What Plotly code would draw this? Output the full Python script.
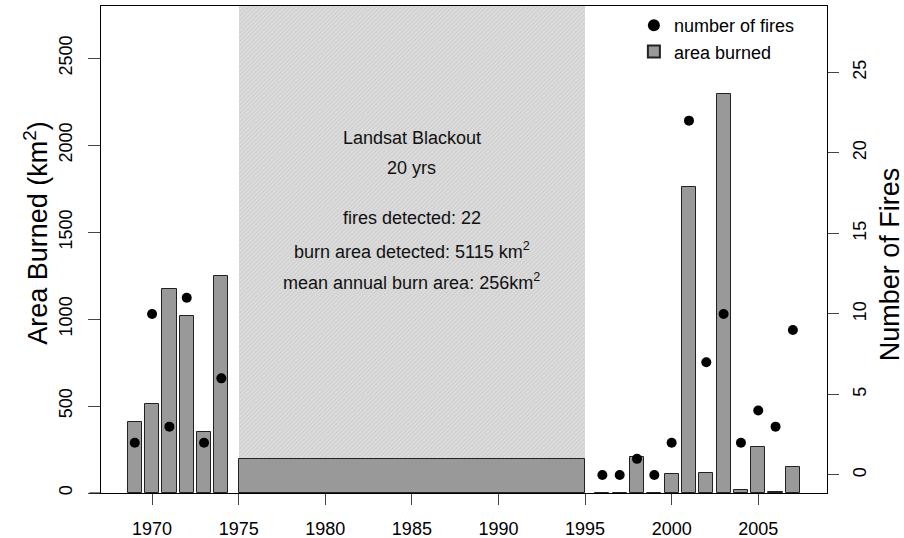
import plotly.graph_objects as go

# ---- data ----
years_pre = [1969, 1970, 1971, 1972, 1973, 1974]
area_pre = [410, 510, 1173, 1016, 353, 1246]
fires_pre = [2, 10, 3, 11, 2, 6]

years_post = [1996, 1997, 1998, 1999, 2000, 2001, 2002, 2003, 2004, 2005, 2006, 2007]
area_post = [0, 0, 209, 0, 107, 1761, 117, 2296, 20, 266, 8, 148]
fires_post = [0, 0, 1, 0, 2, 22, 7, 10, 2, 4, 3, 9]

blackout_start = 1975
blackout_end = 1995
blackout_bar = 195

x_ticks = [1970, 1975, 1980, 1985, 1990, 1995, 2000, 2005]
left_ticks = [0, 500, 1000, 1500, 2000, 2500]
right_ticks = [0, 5, 10, 15, 20, 25]

annot_lines = [
    ("Landsat Blackout", 2043),
    ("20 yrs", 1867),
    ("fires detected: 22", 1580),
    ("burn area detected: 5115 km<sup>2</sup>", 1397),
    ("mean annual burn area: 256km<sup>2</sup>", 1215),
]

FONT = "Liberation Sans, Arial, Helvetica, sans-serif"
Y_MAX = 2800

years = years_pre + years_post
area = area_pre + area_post
fires = fires_pre + fires_post
bl_mid = (blackout_start + blackout_end) / 2
bl_w = blackout_end - blackout_start

fig = go.Figure()

# fire counts (first for legend order)
fig.add_trace(go.Scatter(
    x=years, y=fires, yaxis="y2", mode="markers", name="number of fires",
    marker=dict(color="black", size=10, symbol="circle"),
))

# blackout background band (hatched)
fig.add_trace(go.Bar(
    x=[bl_mid], y=[Y_MAX], width=[bl_w], showlegend=False, hoverinfo="skip",
    marker=dict(color="#dcdcdc", line=dict(width=0),
                pattern=dict(shape="/", fgcolor="#bdbdbd", bgcolor="#dcdcdc", size=3, solidity=0.35)),
))

# area burned bars
fig.add_trace(go.Bar(
    x=years + [bl_mid], y=area + [blackout_bar],
    width=[0.82] * len(years) + [bl_w],
    name="area burned",
    marker=dict(color="#999999", line=dict(color="#222222", width=1)),
))

for txt, yv in annot_lines:
    fig.add_annotation(x=bl_mid, y=yv, xref="x", yref="y", text=txt, showarrow=False,
                       font=dict(size=18, color="#111111", family=FONT), xanchor="center", yanchor="middle")

# axis titles
fig.add_annotation(x=-0.089, y=0.535, xref="paper", yref="paper", text="Area Burned (km<sup>2</sup>)",
                   textangle=-90, showarrow=False, font=dict(size=27, color="black", family=FONT),
                   xanchor="center", yanchor="middle")
fig.add_annotation(x=1.087, y=0.47, xref="paper", yref="paper", text="Number of Fires",
                   textangle=-90, showarrow=False, font=dict(size=27, color="black", family=FONT),
                   xanchor="center", yanchor="middle")

# small extension of baseline to the left
fig.add_shape(type="line", xref="paper", yref="paper", x0=-0.016, x1=0, y0=0, y1=0,
              line=dict(color="black", width=1))

fig.update_layout(
    width=904, height=538,
    margin=dict(l=101, r=77, t=6, b=45, autoexpand=False),
    paper_bgcolor="white", plot_bgcolor="white",
    barmode="overlay", bargap=0,
    font=dict(family=FONT, size=18, color="black"),
    showlegend=True,
    legend=dict(x=0.734, y=0.998, xanchor="left", yanchor="top", bgcolor="rgba(0,0,0,0)",
                font=dict(size=18), traceorder="normal", tracegroupgap=0, itemsizing="constant"),
    xaxis=dict(range=[1967.05, 2008.97], tickvals=x_ticks, ticks="outside", ticklen=11,
               showgrid=False, zeroline=False, showline=True, linecolor="black", linewidth=1,
               mirror=True, tickfont=dict(size=18), ticklabelstandoff=8, automargin=False),
    yaxis=dict(range=[0, Y_MAX], tickvals=left_ticks, ticks="outside", ticklen=12,
               showgrid=False, zeroline=False, showline=True, linecolor="black", linewidth=1,
               mirror=True, tickangle=-90, tickfont=dict(size=18), ticklabelstandoff=9,
               automargin=False),
    yaxis2=dict(range=[-1.12, 29.12], tickvals=right_ticks, overlaying="y", side="right",
                ticks="outside", ticklen=11, showgrid=False, zeroline=False, showline=False,
                tickangle=-90, tickfont=dict(size=18), ticklabelstandoff=5, automargin=False),
)

fig.write_html("out.html", post_script="document.body.style.margin='0';",
               config={"displayModeBar": False})
